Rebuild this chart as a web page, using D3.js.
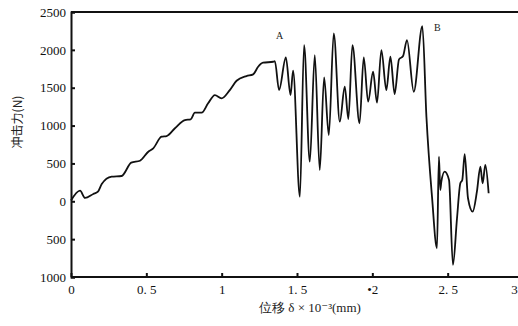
<!DOCTYPE html>
<html>
<head>
<meta charset="utf-8">
<script src="https://cdn.jsdelivr.net/npm/d3@7"></script>
<style>
  body { margin: 0; background: #fff; }
  svg { display: block; }
</style>
</head>
<body>
<div id="chart"></div>
<script>
// displacement (x10^-3 mm) and impact force (N)
const disp = [0, 0.06, 0.093, 0.148, 0.179, 0.204, 0.27, 0.336, 0.40, 0.458, 0.513, 0.546, 0.601, 0.635,
  0.69, 0.756, 0.794, 0.822, 0.867, 0.91, 0.955, 0.999, 1.054, 1.099, 1.165, 1.209, 1.242, 1.275, 1.342,
  1.353, 1.381, 1.426, 1.457, 1.474, 1.519, 1.547, 1.585, 1.618, 1.651, 1.68, 1.711, 1.744, 1.784, 1.817,
  1.841, 1.868, 1.915, 1.943, 1.972, 2.005, 2.031, 2.06, 2.093, 2.12, 2.148, 2.177, 2.204, 2.23, 2.275,
  2.332, 2.359, 2.396, 2.429, 2.442, 2.451, 2.458, 2.48, 2.509, 2.535, 2.562, 2.584, 2.597, 2.613, 2.635,
  2.666, 2.694, 2.717, 2.732, 2.75, 2.772];
const force = [10, 140, 44, 96, 127, 228, 325, 334, 510, 536, 655, 700, 853, 862,
  964, 1073, 1082, 1170, 1170, 1294, 1403, 1360, 1469, 1592, 1654, 1676, 1777, 1830, 1843,
  1850, 1469, 1900, 1403, 1724, 61, 2063, 523, 1931, 413, 1637, 875, 2218, 1051, 1513,
  1086, 2063, 1030, 1901, 1315, 1711, 1302, 1997, 1469, 1909, 1416, 1874, 1918, 2129, 1447,
  2314, 1117, 61, -620, 589, 149, 259, 391, 281, -841, -224, 238, 281, 624, 40,
  -137, 127, 457, 238, 479, 106];

const xTicks = [0, 0.5, 1, 1.5, 2, 2.5, 3];
const xTickLabels = ['0', '0. 5', '1', '1. 5', '•2', '2. 5', '3'];
const yTicks = [-1000, -500, 0, 500, 1000, 1500, 2000, 2500];
const yTickLabels = ['1000', '500', '0', '500', '1000', '1500', '2000', '2500'];
const marks = [{t: 'A', x: 1.36, y: 2150}, {t: 'B', x: 2.41, y: 2250}];

const width = 518, height = 326;
const svg = d3.select('#chart').append('svg')
  .attr('width', width)
  .attr('height', height);

const x = d3.scaleLinear().domain([0, 3]).range([71, 523]);
const y = d3.scaleLinear().domain([-1000, 2500]).range([277, 12]);

const serif = 'Liberation Serif, DejaVu Serif, serif';

// axes
const xAxis = d3.axisBottom(x)
  .tickValues(xTicks)
  .tickSize(-4)
  .tickPadding(8)
  .tickFormat((d, i) => xTickLabels[i]);
const gx = svg.append('g')
  .attr('transform', `translate(0, ${y(-1000)})`)
  .call(xAxis);

const yAxis = d3.axisLeft(y)
  .tickValues(yTicks)
  .tickSize(-4)
  .tickPadding(5)
  .tickFormat((d, i) => yTickLabels[i]);
const gy = svg.append('g')
  .attr('transform', `translate(${x(0)}, 0)`)
  .call(yAxis);

[gx, gy].forEach(g => {
  g.select('.domain').attr('stroke', '#111').attr('stroke-width', 2);
  g.selectAll('.tick line').attr('stroke', '#111').attr('stroke-width', 2);
  g.selectAll('.tick text')
    .style('font-family', serif)
    .style('font-size', '13px')
    .attr('fill', '#111');
});
gx.select('.domain').attr('d', `M${x(0)},0H${width}`);
// last label sits on the cropped right edge; pull it inside
gx.selectAll('.tick text').filter(d => d === 3).attr('dx', -9);

// top frame line
svg.append('line')
  .attr('x1', x(0)).attr('x2', width)
  .attr('y1', y(2500)).attr('y2', y(2500))
  .attr('stroke', '#111').attr('stroke-width', 2);

// the curve
const pts = disp.map((d, i) => [d, force[i]]);
const line = d3.line()
  .x(d => x(d[0]))
  .y(d => y(d[1]))
  .curve(d3.curveMonotoneX);
svg.append('path')
  .datum(pts)
  .attr('d', line)
  .attr('fill', 'none')
  .attr('stroke', '#111')
  .attr('stroke-width', 1.8)
  .attr('stroke-linejoin', 'round');

svg.selectAll('.mark')
  .data(marks)
  .enter().append('text')
  .attr('x', d => x(d.x))
  .attr('y', d => y(d.y))
  .style('font-family', serif)
  .style('font-size', '10px')
  .attr('fill', '#222')
  .text(d => d.t);

// axis titles
svg.append('text')
  .attr('transform', 'translate(22, 122) rotate(-90)')
  .style('font-family', 'Noto Sans CJK SC, sans-serif')
  .style('font-size', '12px')
  .style('text-anchor', 'middle')
  .attr('fill', '#222')
  .text('冲击力(N)');

svg.append('text')
  .attr('x', 310).attr('y', 312)
  .style('font-family', serif)
  .style('font-size', '13px')
  .style('text-anchor', 'middle')
  .attr('fill', '#222')
  .text('位移  δ  ×  10⁻³(mm)');
</script>
</body>
</html>
